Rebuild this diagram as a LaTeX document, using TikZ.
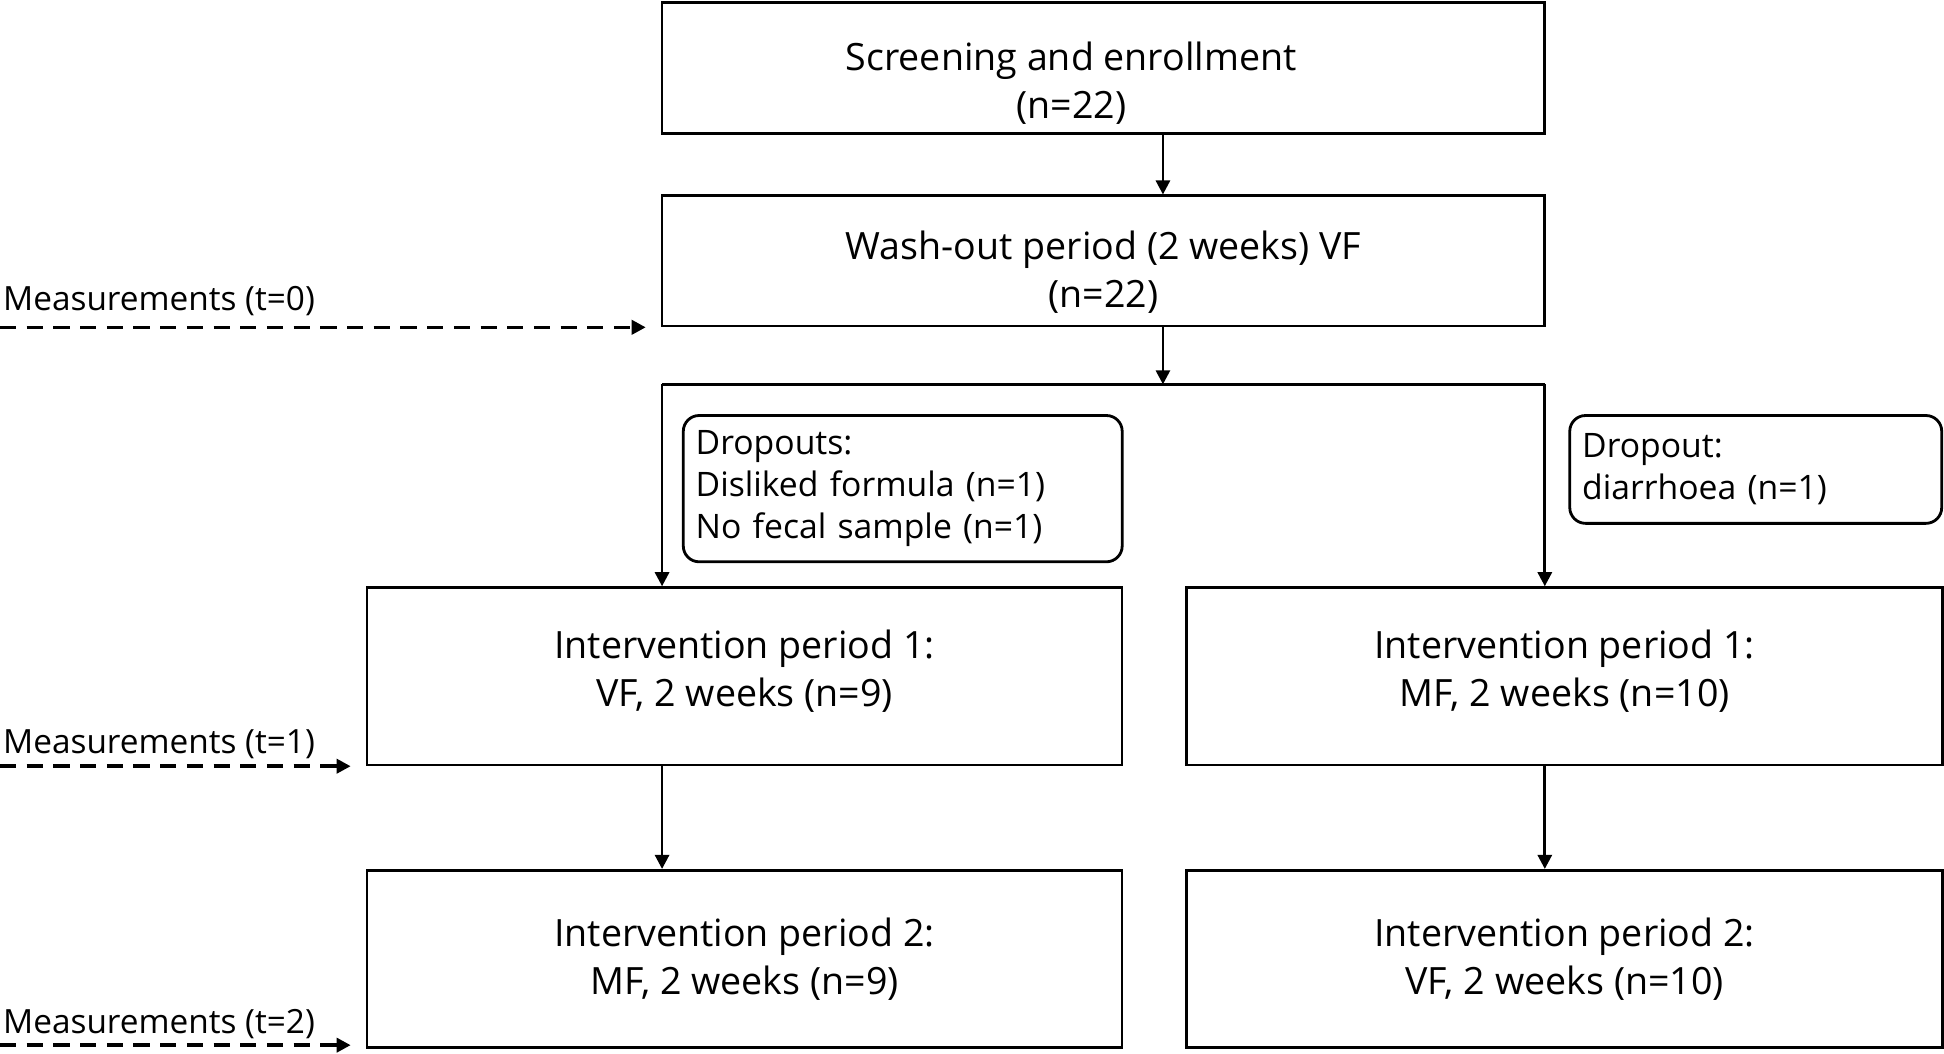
\documentclass[tikz,border=0pt]{standalone}
\usepackage{fontspec}
\setmainfont{Open Sans}
\usetikzlibrary{arrows.meta}
\def\u{0.012398cm}
\newdimen\pu \pu=0.012398cm
% two centred lines, first baseline raised by #1 (in picture units) above the node centre
\newcommand{\boxlines}[2]{\raisebox{#1\pu}[0pt][0pt]{\begin{tabular}[t]{@{}c@{}}#2\end{tabular}}}
\tikzset{
  box/.style={draw, line width=0.8pt, inner sep=0pt,
    font=\fontsize{10.7}{13.7}\selectfont},
  dropbox/.style={draw, line width=0.8pt, rounded corners=4.5pt, align=left,
    anchor=north west, inner xsep=10*\u, inner ysep=0pt,
    font=\fontsize{9.6}{12}\selectfont},
  meas/.style={line width=1pt, dash pattern=on 4.6pt off 3pt, -{Triangle[length=4pt,width=4pt]}},
  measlabel/.style={anchor=west, inner sep=0pt, font=\fontsize{9.5}{12}\selectfont},
  arr/.style={line width=0.8pt, -{Triangle[length=4pt,width=4pt]}},
  link/.style={line width=0.8pt}
}
\begin{document}
\begin{tikzpicture}[x=\u, y=-\u]
  \useasboundingbox (0,0) rectangle (1568,850);

  % main boxes
  \node[box, minimum width=712*\u, minimum height=106*\u] (screen) at (890,55)
    {\hspace*{-52\pu}\boxlines{-1.6}{Screening and enrollment\\(n=22)}};
  \node[box, minimum width=712*\u, minimum height=105*\u] (wash) at (890,210.5)
    {\boxlines{1.4}{Wash-out period (2 weeks) VF\\(n=22)}};
  \node[box, minimum width=609*\u, minimum height=143*\u] (int1l) at (600.5,545.5)
    {\boxlines{14.4}{Intervention period 1:\\VF, 2 weeks (n=9)}};
  \node[box, minimum width=610*\u, minimum height=143*\u] (int1r) at (1262,545.5)
    {\boxlines{14.4}{Intervention period 1:\\MF, 2 weeks (n=10)}};
  \node[box, minimum width=609*\u, minimum height=143*\u] (int2l) at (600.5,773.5)
    {\boxlines{9.9}{Intervention period 2:\\MF, 2 weeks (n=9)}};
  \node[box, minimum width=610*\u, minimum height=143*\u] (int2r) at (1262,773.5)
    {\boxlines{9.9}{Intervention period 2:\\VF, 2 weeks (n=10)}};

  % dropouts
  \node[dropbox, text width=334*\u, minimum height=118*\u] (dropl) at (550,334)
    {Dropouts:\\Disliked formula (n=1)\\No fecal sample (n=1)};
  \node[dropbox, text width=280*\u, minimum height=87*\u] (dropr) at (1265,334)
    {Dropout:\\diarrhoea (n=1)};

  % split
  \coordinate (top) at (938,310);
  \coordinate (lsplit) at (534,310);
  \coordinate (rsplit) at (1246,310);
  \draw[arr] (screen.south -| top) -- (wash.north -| top);
  \draw[arr] (wash.south -| top) -- (top);
  \draw[link] (lsplit) -- (rsplit);
  \draw[arr] (lsplit) -- (lsplit |- int1l.north);
  \draw[arr] (rsplit) -- (rsplit |- int1r.north);
  \draw[arr] (int1l.south -| lsplit) -- (int2l.north -| lsplit);
  \draw[arr] (int1r.south -| rsplit) -- (int2r.north -| rsplit);

  % measurements
  \node[measlabel] (m0) at (2,243) {Measurements (t=0)};
  \node[measlabel] (m1) at (2,600) {Measurements (t=1)};
  \node[measlabel] (m2) at (2,826) {Measurements (t=2)};
  \coordinate (m0s) at (0,264);
  \coordinate (m1s) at (0,618);
  \coordinate (m2s) at (0,843);
  \draw[meas] (m0s) -- ([xshift=-12*\u]m0s -| wash.west);
  \draw[meas] (m1s) -- ([xshift=-12*\u]m1s -| int1l.west);
  \draw[meas] (m2s) -- ([xshift=-12*\u]m2s -| int2l.west);
\end{tikzpicture}
\end{document}
